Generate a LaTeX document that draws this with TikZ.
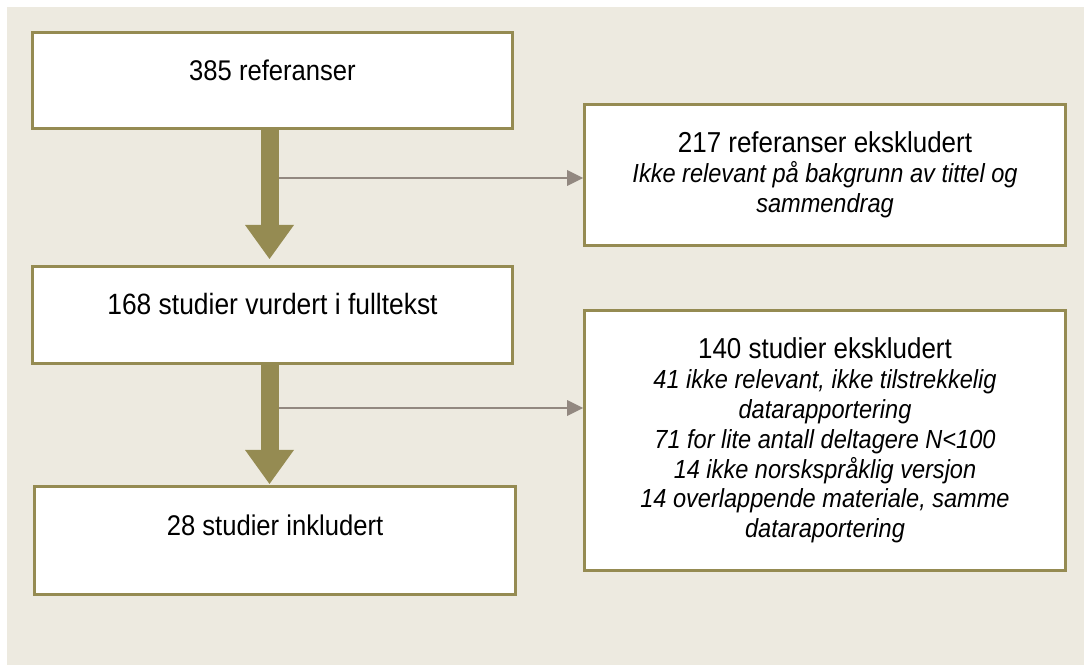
\documentclass[tikz,border=0pt]{standalone}
\usepackage{fontspec}
\setmainfont{Liberation Sans}[FakeStretch=0.9]
\usetikzlibrary{arrows.meta, positioning}
\definecolor{flowolive}{HTML}{958B52}
\definecolor{flowgrey}{HTML}{928880}
\definecolor{paper}{HTML}{EDEAE0}

\begin{document}
\begin{tikzpicture}[x=0.02cm, y=-0.02cm, font=\fontsize{16.2}{17}\selectfont]
        \tikzset{
        block/.style   = {draw=flowolive, line width=0.06cm, fill=white, rectangle, minimum width=9.6cm, align=center, text height=0pt, text depth=0pt},
        exclbox/.style = {draw=flowolive, line width=0.06cm, fill=white, rectangle, minimum width=9.62cm, align=center, font=\fontsize{14.9}{17}\selectfont\itshape},
        flow/.style    = {flowolive, line width=0.36cm, -{Triangle[length=0.68cm, width=0.98cm, line width=0pt]}},
        side/.style    = {flowgrey, line width=0.04cm, -{Triangle[length=0.32cm, width=0.32cm, line width=0pt]}}
        }

        % Background
        \useasboundingbox (0,0) rectangle (1084,665);
        \fill[paper] (7,7) rectangle (1084,665);

        % Main flow
        \node[block, minimum height=1.92cm] (refs) at (272.5,80.5) {385 referanser};
        \node[block, minimum height=1.94cm, below=2.7cm of refs, font=\fontsize{16.7}{17}\selectfont] (full) {168 studier vurdert i fulltekst};
        \node[block, minimum width=9.62cm, minimum height=2.16cm, text depth=0.18cm, below=2.4cm of full, xshift=0.05cm] (incl) {28 studier inkludert};

        % Exclusions
        \node[exclbox, minimum height=2.82cm] (excl1) at (825,175) {{\upshape\fontsize{16.4}{17}\selectfont 217 referanser ekskludert}\\Ikke relevant på bakgrunn av tittel og\\sammendrag};
        \node[exclbox, minimum height=5.2cm] (excl2) at (825,440.5) {{\upshape\fontsize{16.4}{17}\selectfont 140 studier ekskludert}\\41 ikke relevant, ikke tilstrekkelig\\datarapportering\\71 for lite antall deltagere N<100\\14 ikke norskspråklig versjon\\14 overlappende materiale, samme\\dataraportering};

        % Connections
        \coordinate (split1) at (278,178);
        \coordinate (split2) at (279,408);
        \draw[side] (split1) -- (split1 -| excl1.west);
        \draw[side] (split2) -- (split2 -| excl2.west);
        \draw[flow, shorten >=0.12cm] ([xshift=-0.06cm]refs.south) -- ([xshift=-0.06cm]refs.south |- full.north);
        \draw[flow, shorten >=0.02cm] ([xshift=-0.06cm]full.south) -- ([xshift=-0.06cm]full.south |- incl.north);
    \end{tikzpicture}
\end{document}
